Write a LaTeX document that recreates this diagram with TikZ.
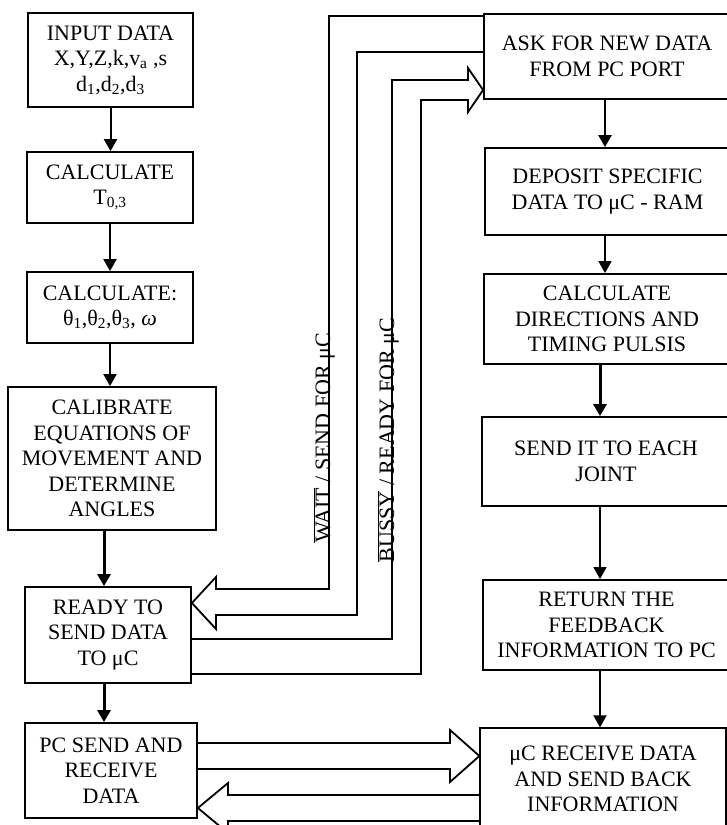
\documentclass[tikz,border=0pt]{standalone}
\usepackage{fontspec}
\setmainfont{Liberation Serif}
\usetikzlibrary{arrows.meta}
\begin{document}
\begin{tikzpicture}[x=1pt,y=-1pt,
  box/.style={draw,line width=1.8pt,inner sep=0pt,align=center,font=\fontsize{22}{25.5}\selectfont},
  flow/.style={line width=2pt,-{Triangle[width=13pt,length=12pt]}},
  hollow/.style={line width=1.8pt,line join=miter},
  lab/.style={font=\fontsize{22}{25.5}\selectfont,rotate=90,anchor=base,inner sep=0pt}]
\useasboundingbox (0,0) rectangle (727,825);
\clip (0,0) rectangle (727,825);
% left column
\node[box,minimum width=165pt,minimum height=94pt] (in) at (110.5,60)
  {INPUT DATA\\X,Y,Z,k,v\textsubscript{a} ,s\\d\textsubscript{1},d\textsubscript{2},d\textsubscript{3}};
\node[box,minimum width=166pt,minimum height=71pt] (t03) at (110,187.5)
  {CALCULATE\\T\textsubscript{0,3}};
\node[box,minimum width=166pt,minimum height=71pt] (th) at (110,307.5)
  {CALCULATE:\\θ\textsubscript{1},θ\textsubscript{2},θ\textsubscript{3}, \textit{ω}};
\node[box,minimum width=208pt,minimum height=143pt] (cal) at (112,458.5)
  {CALIBRATE\\EQUATIONS OF\\MOVEMENT AND\\DETERMINE\\ANGLES};
\node[box,minimum width=166pt,minimum height=96pt] (ready) at (108,635)
  {READY TO\\SEND DATA\\TO μC};
\node[box,minimum width=172pt,minimum height=95pt] (pc) at (111,770.5)
  {PC SEND AND\\RECEIVE\\DATA};
% right column
\node[box,minimum width=246pt,minimum height=85pt] (ask) at (607,56.5)
  {ASK FOR NEW DATA\\FROM PC PORT};
\node[box,minimum width=245pt,minimum height=87pt] (dep) at (607.5,191.5)
  {DEPOSIT SPECIFIC\\DATA TO μC - RAM};
\node[box,minimum width=246pt,minimum height=90pt] (dir) at (607,319)
  {CALCULATE\\DIRECTIONS AND\\TIMING PULSIS};
\node[box,minimum width=248pt,minimum height=89pt] (send) at (606,461.5)
  {SEND IT TO EACH\\JOINT};
\node[box,minimum width=247pt,minimum height=90pt] (ret) at (606.5,625)
  {RETURN THE\\FEEDBACK\\INFORMATION TO PC};
\node[box,minimum width=246pt,minimum height=102pt,line width=1.2pt] (rec) at (603,779)
  {μC RECEIVE DATA\\AND SEND BACK\\INFORMATION};
% flow arrows
\draw[flow] (in.south) -- (in.south |- t03.north);
\draw[flow] (t03.south) -- (t03.south |- th.north);
\draw[flow] (th.south) -- (th.south |- cal.north);
\draw[flow,line width=3pt] ([xshift=-4pt]ready.north |- cal.south) -- ([xshift=-4pt]ready.north);
\draw[flow,line width=3pt] ([xshift=-4pt]ready.south) -- ([xshift=-4pt]ready.south |- pc.north);
\draw[flow,line width=2.5pt] ([xshift=-2pt]ask.south) -- ([xshift=-2pt]ask.south |- dep.north);
\draw[flow,line width=1.5pt] ([xshift=-2.5pt]dep.south) -- ([xshift=-2.5pt]dep.south |- dir.north);
\draw[flow,line width=3pt] ([xshift=-7pt]dir.south) -- ([xshift=-7pt]dir.south |- send.north);
\draw[flow,line width=1.5pt] ([xshift=-6pt]send.south) -- ([xshift=-6pt]send.south |- ret.north);
\draw[flow] ([xshift=-6.5pt]ret.south) -- ([xshift=-6.5pt]ret.south |- rec.north);
% hollow arrows
\draw[hollow] (ask.west |- 0,16) -- (329,16) -- (329,589) -- (216,589) -- (216,577)
  -- (ready.east |- 0,603) -- (216,629) -- (216,615) -- (357,615) -- (357,52) -- (ask.west |- 0,52);
\draw[hollow] (ready.east |- 0,639) -- (392,639) -- (392,80) -- (468,80) -- (468,68)
  -- (ask.west |- 0,90) -- (468,112) -- (468,100) -- (421,100) -- (421,674) -- (ready.east |- 0,674);
\draw[hollow] (pc.east |- 0,743) -- (450,743) -- (450,730) -- (rec.west |- 0,756)
  -- (450,782) -- (450,769) -- (pc.east |- 0,769);
\draw[hollow] (rec.west |- 0,795) -- (228,795) -- (228,783) -- (pc.east |- 0,808)
  -- (228,833) -- (228,821) -- (rec.west |- 0,821);
% labels
\node[lab] (wait) at (330,438) {$\overline{\mbox{WAIT}}$ / SEND FOR μC};
\node[lab] (bussy) at (394,440) {$\overline{\mbox{BUSSY}}$ / READY FOR μC};
\end{tikzpicture}
\end{document}
